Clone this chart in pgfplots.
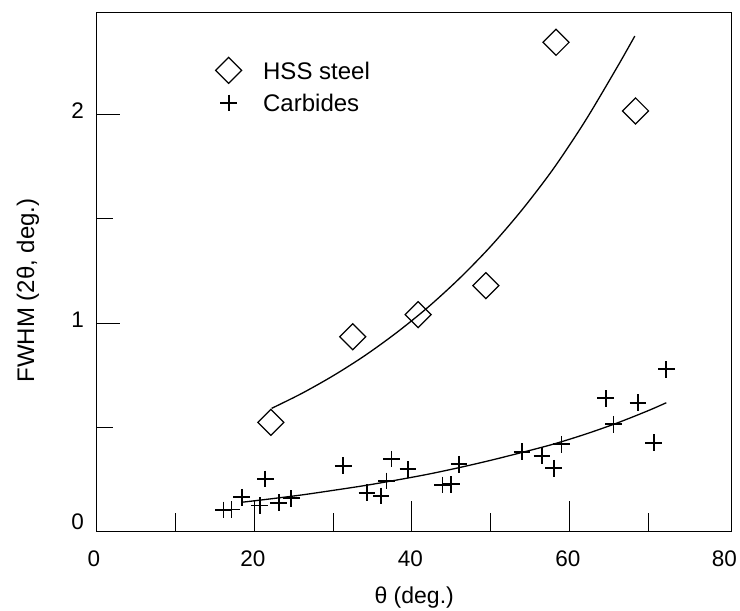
\documentclass[border=0pt]{standalone}
\usepackage{fontspec}
\setmainfont{Liberation Sans}
\usepackage{pgfplots}
\pgfplotsset{compat=1.18}
\pgfplotsset{singlemark legend/.style={legend image code/.code={\draw[##1] plot coordinates {(0bp,0bp)};}}}
\begin{document}
\begin{tikzpicture}
\begin{axis}[
  at={(0,0)}, anchor=south west,
  scale only axis, width=635bp, height=519bp,
  xmin=0, xmax=80.6, ymin=0, ymax=2.487,
  xtick={20,40,60}, minor xtick={10,30,50,70},
  ytick={1,2}, minor ytick={0.5,1.5},
  extra x ticks={0,80}, extra x tick labels={0,80},
  extra x tick style={xtick style={draw=none}, xticklabel style={xshift=-1.2bp}},
  extra y ticks={0}, extra y tick labels={0},
  extra y tick style={ytick style={draw=none}, yticklabel style={yshift=6.5bp}},
  tick align=inside, tick pos=left,
  /pgf/number format/assume math mode=true,
  axis line style={line width=1.4bp},
  xtick style={line width=1bp, black, /pgfplots/major tick length=31bp, /pgfplots/minor tick length=19bp},
  ytick style={line width=1bp, black, /pgfplots/major tick length=23bp, /pgfplots/minor tick length=16bp},
  tick label style={font=\fontsize{22.5bp}{25bp}\selectfont, inner sep=0pt},
  xticklabel style={anchor=north, yshift=-19bp, xshift=-1.5bp},
  yticklabel style={anchor=east, xshift=-12.5bp, yshift=3.5bp},
  xlabel={θ (deg.)},
  ylabel={FWHM (2θ, deg.)},
  every axis x label/.style={font=\fontsize{23bp}{26bp}\selectfont, at={(axis description cs:0.5,-0.1393)}, anchor=base},
  every axis y label/.style={font=\fontsize{24bp}{27bp}\selectfont, at={(axis description cs:-0.0987,0.465)}, rotate=90, anchor=base},
  legend style={draw=none, fill=none, inner xsep=0pt, inner ysep=0pt,
    nodes={inner sep=0pt, text depth=0pt},
    column sep=21.5bp, row sep=10.8bp,
    font=\fontsize{24bp}{27bp}\selectfont,
    at={(axis description cs:0.187,0.9144)}, anchor=north west},
  legend cell align=left,
  singlemark legend,
]
% HSS steel fit curve
\addplot[smooth, line width=1.3bp, black, no marks, forget plot] coordinates {
  (22.2,0.591) (26,0.662) (30,0.747) (34,0.843) (38,0.952) (42,1.074)
  (46,1.212) (50,1.367) (54,1.543) (58,1.741) (62,1.968) (66,2.222) (68.3,2.375)
};
% Carbides fit curve
\addplot[smooth, line width=1.3bp, black, no marks, forget plot] coordinates {
  (18.4,0.141) (22,0.157) (26,0.176) (30,0.198) (34,0.221) (38,0.247)
  (42,0.275) (46,0.307) (50,0.342) (54,0.380) (58,0.420) (62,0.467)
  (66,0.520) (70,0.580) (72.3,0.618)
};
% HSS steel
\addplot[only marks, mark=square, mark size=9.2bp,
  mark options={rotate=45, line width=1.2bp, black, fill=none}] coordinates {
  (22.1,0.524) (32.5,0.934) (40.8,1.04) (49.4,1.179) (58.3,2.345) (68.4,2.016)
};
\addlegendentry{HSS steel}
% Carbides
\addplot[only marks, mark=+, mark size=8.3bp,
  mark options={line width=1.7bp, black}] coordinates {
  (16.1,0.104) (17.1,0.107) (18.4,0.165) (20.7,0.125) (21.4,0.253)
  (23.1,0.139) (24.7,0.160) (31.3,0.316) (34.3,0.187) (36.1,0.171)
  (36.8,0.243) (37.4,0.348) (39.5,0.299) (43.9,0.224) (45.0,0.227)
  (46.0,0.323) (54.0,0.383) (56.5,0.364) (58.0,0.304) (59.0,0.419)
  (64.6,0.639) (65.6,0.515) (68.7,0.618) (70.7,0.426) (72.3,0.778)
};
\addlegendentry{Carbides}
\end{axis}
\pgfresetboundingbox
\path[use as bounding box] (-96.7bp,-79.3bp) rectangle (643.3bp,531.7bp);
\end{tikzpicture}
\end{document}
